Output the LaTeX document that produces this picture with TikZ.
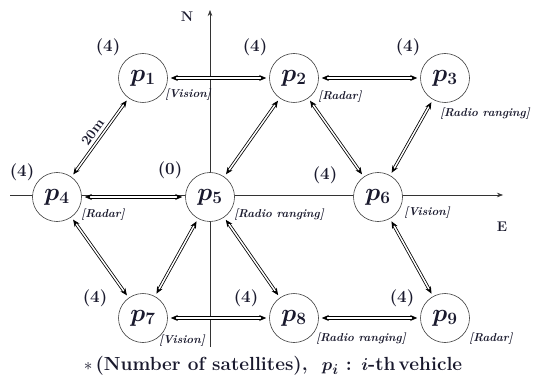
\documentclass[tikz,border=0pt]{standalone}
\usepackage{amsmath,bm}
\usetikzlibrary{arrows.meta}
\definecolor{ink}{RGB}{25,25,45}
\begin{document}
\begin{tikzpicture}[x=1pt,y=-1pt,
  veh/.style={circle,draw=black!75,line width=0.6pt,fill=white,minimum size=49pt,inner sep=0pt,
    font=\fontsize{24}{26}\selectfont,text=ink},
  sat/.style={font=\fontsize{17}{19}\selectfont\bfseries,text=ink},
  sens/.style={font=\fontsize{11.5}{12}\selectfont\bfseries\itshape,text=ink,inner sep=0pt},
  link/.style={double,double distance=1.5pt,line width=0.8pt,draw=black,
    {Stealth[length=7pt,width=6pt]}-{Stealth[length=7pt,width=6pt]},shorten >=3pt,shorten <=3pt},
  axis/.style={line width=0.6pt,draw=black!80,-{Stealth[length=6pt,width=4.5pt]}}]
\useasboundingbox (0,0) rectangle (537,379);
% axes
\coordinate (axS) at (210,347);
\coordinate (axN) at (210,10);
\coordinate (axW) at (10,195);
\coordinate (axE) at (503,195);
\draw[axis] (axS) -- (axN);
\draw[axis] (axW) -- (axE);
\node[font=\fontsize{14}{15}\selectfont\bfseries,text=ink] (N) at (187,17) {N};
\node[font=\fontsize{14}{15}\selectfont\bfseries,text=ink] (E) at (502,227) {E};
% vehicles
\node[veh] (p1) at (143,78) {$\bm{p_1}$};
\node[veh] (p2) at (294,78) {$\bm{p_2}$};
\node[veh] (p3) at (445,78) {$\bm{p_3}$};
\node[veh] (p4) at (57,197) {$\bm{p_4}$};
\node[veh] (p5) at (210,197) {$\bm{p_5}$};
\node[veh] (p6) at (378,197) {$\bm{p_6}$};
\node[veh] (p7) at (143,318) {$\bm{p_7}$};
\node[veh] (p8) at (294,318) {$\bm{p_8}$};
\node[veh] (p9) at (445,318) {$\bm{p_9}$};
% satellites
\node[sat] (s1) at (108,47) {(4)};
\node[sat] (s2) at (255,47) {(4)};
\node[sat] (s3) at (408,47) {(4)};
\node[sat] (s4) at (22,172) {(4)};
\node[sat] (s5) at (170,170) {(0)};
\node[sat] (s6) at (325,175) {(4)};
\node[sat] (s7) at (95,298) {(4)};
\node[sat] (s8) at (246,298) {(4)};
\node[sat] (s9) at (402,298) {(4)};
% sensors
\node[sens] (t1) at (188,95) {[Vision]};
\node[sens] (t2) at (340,97) {[Radar]};
\node[sens] (t3) at (485,114) {[Radio ranging]};
\node[sens] (t4) at (103,215) {[Radar]};
\node[sens] (t5) at (279,215) {[Radio ranging]};
\node[sens] (t6) at (427,213) {[Vision]};
\node[sens] (t7) at (182,341) {[Vision]};
\node[sens] (t8) at (361,339) {[Radio ranging]};
\node[sens] (t9) at (491,339) {[Radar]};
% links
\draw[link] (p1) -- (p2);
\draw[link] (p2) -- (p3);
\draw[link] (p1) -- node[sloped,above=3pt,inner sep=1pt,font=\fontsize{14}{15}\selectfont\bfseries,text=ink] {20m} (p4);
\draw[link] (p2) -- (p5);
\draw[link] (p2) -- (p6);
\draw[link] (p3) -- (p6);
\draw[link] (p4) -- (p5);
\draw[link] (p4) -- (p7);
\draw[link] (p5) -- (p7);
\draw[link] (p5) -- (p8);
\draw[link] (p6) -- (p9);
\draw[link] (p7) -- (p8);
\draw[link] (p8) -- (p9);
% caption
\node[font=\fontsize{19}{21}\selectfont\bfseries,text=ink] (cap) at (273,366)
  {$\ast$\,(Number of satellites),\ \ $\bm{p_i}$ : $\bm{i}$-th\,vehicle};
\end{tikzpicture}
\end{document}
